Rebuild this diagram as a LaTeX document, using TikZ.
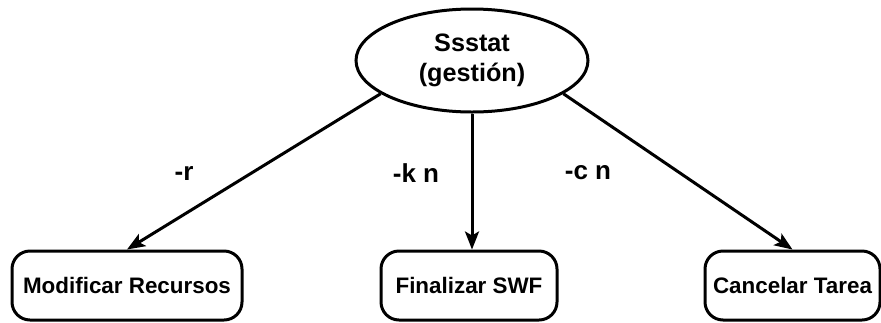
\documentclass[tikz,border=0pt]{standalone}
\usepackage{fontspec}
\setmainfont{Liberation Sans}
\usetikzlibrary{shapes.geometric,arrows.meta}

\begin{document}
\begin{tikzpicture}[x=0.5pt,y=-0.5pt,
    opbox/.style={draw,line width=1.5pt,rounded corners=9pt,minimum height=34.5pt,
        inner sep=0pt,font=\bfseries\fontsize{11.2}{13}\selectfont},
    flag/.style={font=\bfseries\fontsize{13}{15}\selectfont,inner sep=0pt},
    arr/.style={line width=1.5pt,-{Stealth[length=9pt,width=7pt,inset=2pt]}}]
    \useasboundingbox (0,0) rectangle (881,322);

    \node[draw,ellipse,line width=1.5pt,minimum width=116pt,minimum height=51.5pt,
        inner sep=0pt,align=center,font=\bfseries\fontsize{12.6}{15}\selectfont]
        (ssstat) at (472,60.5) {Ssstat\\(gestión)};

    \node[opbox,minimum width=115pt] (mod) at (127,285.5) {Modificar Recursos};
    \node[opbox,minimum width=88pt] (fin) at (469,285.5) {Finalizar SWF};
    \node[opbox,minimum width=87.5pt] (can) at (792.5,285.5) {Cancelar Tarea};

    \draw[arr] (ssstat.200) -- (mod.north);
    \draw[arr] (ssstat.south) -- (ssstat.south |- fin.north);
    \draw[arr] (ssstat.-20) -- (can.north);

    \node[flag] (r) at (184,173) {-r};
    \node[flag] (kn) at (416,173) {-k n};
    \node[flag] (cn) at (588,173) {-c n};

\end{tikzpicture}
\end{document}
